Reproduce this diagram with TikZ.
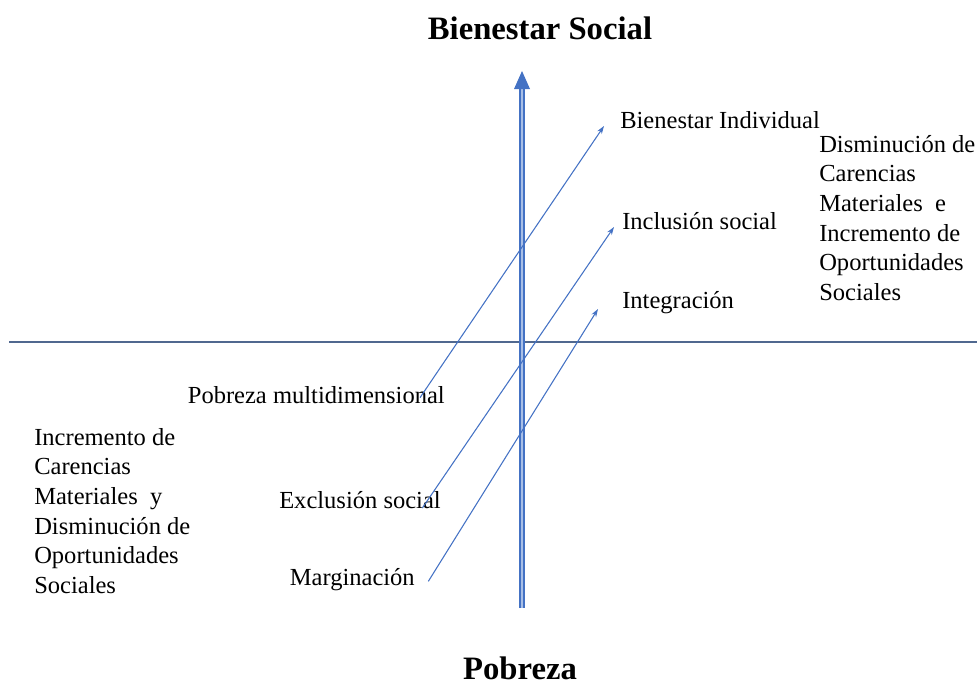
\documentclass[tikz,border=0pt]{standalone}
\usepackage{fontspec}
\setmainfont{Liberation Serif}
\usetikzlibrary{arrows.meta}
\definecolor{azul}{HTML}{4472C4}
\definecolor{azulclaro}{HTML}{A9BFE6}
\definecolor{pizarra}{HTML}{50688F}
\begin{document}
\begin{tikzpicture}[x=0.75pt,y=-0.75pt,
	titulo/.style={font=\fontsize{24.5}{28}\selectfont\bfseries,inner sep=0pt},
	etiqueta/.style={font=\fontsize{18.4}{22}\selectfont,inner sep=0pt},
	bloque/.style={font=\fontsize{18.4}{22.2}\selectfont,inner sep=0pt,align=left},
	flecha/.style={azul,line width=0.8pt,-{Stealth[length=6pt,width=4pt]}}]
			\useasboundingbox (0,0) rectangle (977,685);
			\node[titulo] (bs) at (540,28) {Bienestar Social};
			\node[titulo] (pob) at (520,668) {Pobreza};
			\draw[pizarra,line width=1pt] (9,342) -- (977,342);
			\draw[azul,double=azulclaro,double distance=2.2pt,line width=1pt] (522,608) -- (522,88);
			\fill[azul] (522,71) -- (530,89) -- (514,89) -- cycle;
			\node[etiqueta,anchor=west] (bi) at (620,120) {Bienestar Individual};
			\node[etiqueta,anchor=west] (is) at (622,221) {Inclusión social};
			\node[etiqueta,anchor=west] (ig) at (622,303) {Integración};
			\node[etiqueta,anchor=east] (pm) at (445,395) {Pobreza multidimensional};
			\node[etiqueta,anchor=east] (es) at (441,500) {Exclusión social};
			\node[etiqueta,anchor=east] (ma) at (415,580) {Marginación};
			\node[bloque,anchor=north west] (izq) at (34,428) {Incremento de\\Carencias\\Materiales~ y\\Disminución de\\Oportunidades\\Sociales};
			\node[bloque,anchor=north west] (der) at (819,135) {Disminución de\\Carencias\\Materiales~ e\\Incremento de\\Oportunidades\\Sociales};
			\draw[flecha] ([xshift=-18.75pt,yshift=-2pt]pm.east) -- ([xshift=-12pt,yshift=-4.5pt]bi.west);
			\draw[flecha] ([xshift=-14pt,yshift=-6pt]es.east) -- ([xshift=-6pt,yshift=-4.5pt]is.west);
			\draw[flecha] ([xshift=10pt,yshift=-1pt]ma.east) -- ([xshift=-18pt,yshift=-4.5pt]ig.west);
		\end{tikzpicture}
\end{document}
